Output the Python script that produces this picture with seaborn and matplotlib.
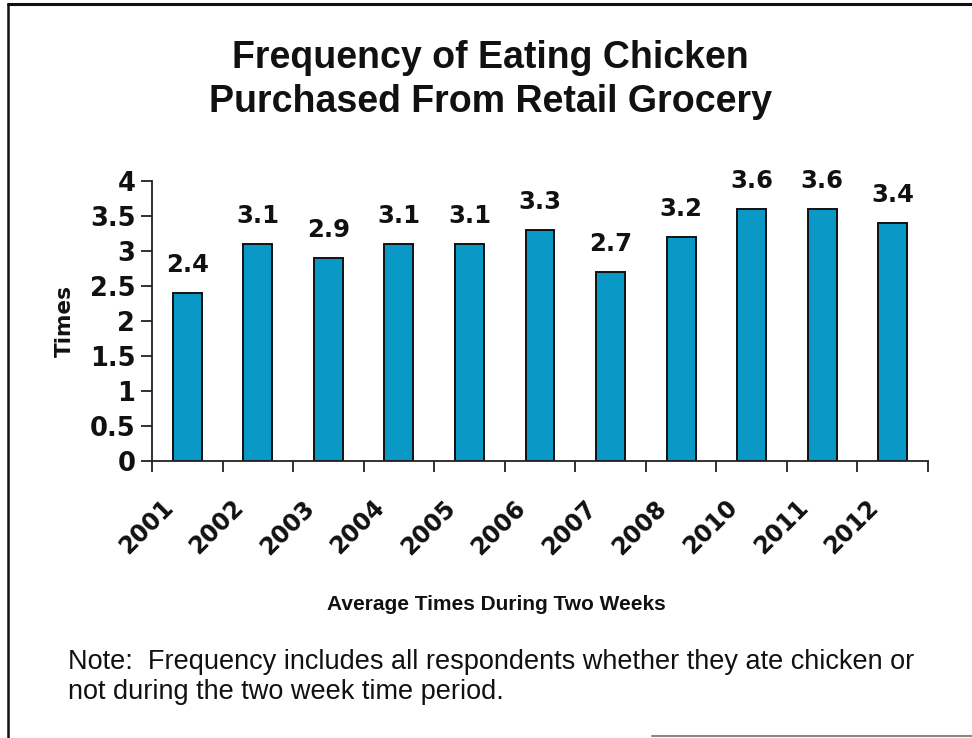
import matplotlib
matplotlib.use("Agg")
import matplotlib.pyplot as plt
import matplotlib.transforms as mtransforms
from matplotlib.lines import Line2D
import seaborn as sns
import pandas as pd

# Survey results: average times chicken bought at retail grocery was eaten in two weeks
years = ["2001", "2002", "2003", "2004", "2005", "2006", "2007", "2008", "2010", "2011", "2012"]
times = [2.4, 3.1, 2.9, 3.1, 3.1, 3.3, 2.7, 3.2, 3.6, 3.6, 3.4]
y_ticks = [0, 0.5, 1, 1.5, 2, 2.5, 3, 3.5, 4]
y_tick_labels = ["0", "0.5", "1", "1.5", "2", "2.5", "3", "3.5", "4"]

title = "Frequency of Eating Chicken\nPurchased From Retail Grocery"
x_caption = "Average Times During Two Weeks"
y_caption = "Times"
note = ("Note:  Frequency includes all respondents whether they ate chicken or\n"
        "not during the two week time period.")

sns.set_theme(style="white")
plt.rcParams["font.family"] = ["Liberation Sans", "DejaVu Sans"]
heavy = dict(family="DejaVu Sans", fontweight="bold", color="#111111")

df = pd.DataFrame({"year": years, "times": times})

fig = plt.figure(figsize=(9.72, 7.38), dpi=100)
ax = fig.add_axes([152 / 972, 1 - 461 / 738, 776 / 972, 280 / 738])

sns.barplot(data=df, x="year", y="times", color="#0A99C6", saturation=1,
            width=0.41, edgecolor="#111111", linewidth=1.4, ax=ax)

ax.set_ylim(0, 4)
ax.set_xlim(-0.5, len(years) - 0.5)
ax.set_yticks(y_ticks)
ax.set_yticklabels(y_tick_labels, fontsize=18.5, **heavy)

# slanted year labels hang below each bar; tick marks sit between categories
ax.set_xticks(range(len(years)))
ax.set_xticklabels([])
ax.tick_params(axis="x", which="major", length=0)
label_shift = mtransforms.ScaledTranslation(-13 / 72, -31 / 72, fig.dpi_scale_trans)
for i, yr in enumerate(years):
    ax.text(i, 0, yr, transform=ax.get_xaxis_transform() + label_shift,
            fontsize=17, rotation=45, ha="right", va="center",
            rotation_mode="anchor", **heavy)
ax.set_xticks([i - 0.5 for i in range(len(years) + 1)], minor=True)
ax.tick_params(axis="x", which="minor", length=8, width=1.3, color="#222222",
               direction="out", bottom=True)
ax.tick_params(axis="y", length=8, width=1.3, color="#222222", direction="out",
               left=True, pad=4)

for side in ("top", "right"):
    ax.spines[side].set_visible(False)
for side in ("left", "bottom"):
    ax.spines[side].set_color("#222222")
    ax.spines[side].set_linewidth(1.3)

ax.set_xlabel("")
ax.set_ylabel(y_caption, fontsize=15.5, **heavy)
ax.yaxis.set_label_coords(-0.0995, 0.5)

for i, v in enumerate(times):
    ax.annotate(f"{v:g}", (i, v), xytext=(0, 20), textcoords="offset points",
                ha="center", va="center", fontsize=17.5, **heavy)

fig.text(490 / 972, 1 - 80 / 738, title, ha="center", va="center",
         fontsize=27, fontweight="bold", color="#111111", linespacing=1.3)
fig.text(496 / 972, 1 - 604 / 738, x_caption, ha="center", va="center",
         fontsize=15, fontweight="bold", color="#111111")
fig.text(68 / 972, 1 - 677 / 738, note, ha="left", va="center",
         fontsize=19.5, color="#111111", linespacing=1.23)

# frame lines around the slide
fig.add_artist(Line2D([8 / 972, 1], [1 - 4 / 738, 1 - 4 / 738], color="#111111", lw=2.2))
fig.add_artist(Line2D([8 / 972, 8 / 972], [0, 1 - 4 / 738], color="#111111", lw=1.8))
fig.add_artist(Line2D([652 / 972, 1], [1 - 736 / 738, 1 - 736 / 738], color="#888888", lw=1.5))

fig.savefig("out.png", dpi=100, facecolor="white")
